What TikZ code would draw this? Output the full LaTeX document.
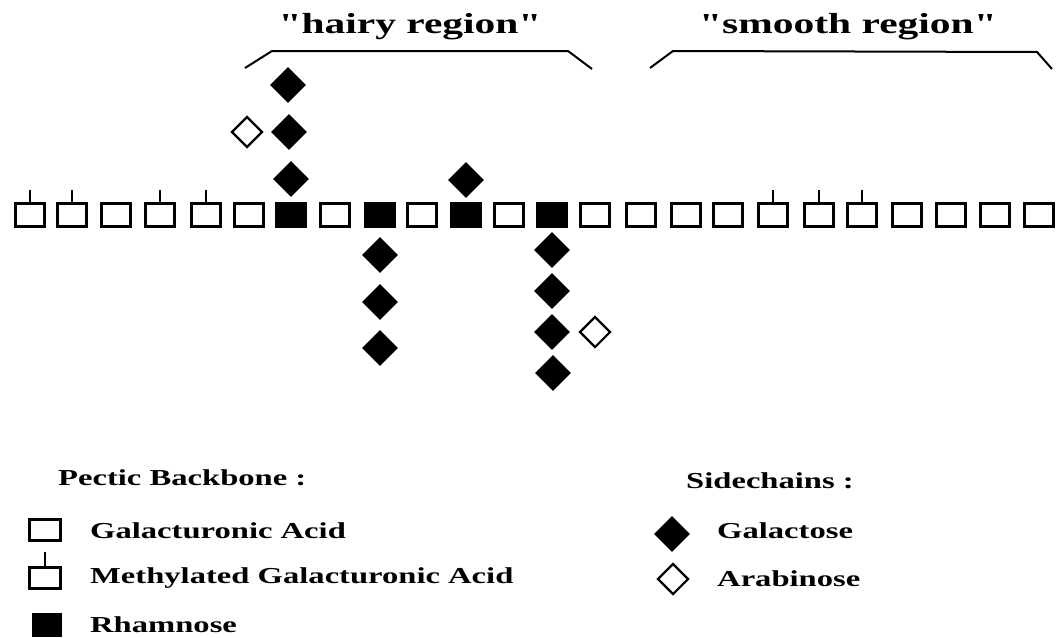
\documentclass[tikz,border=0pt]{standalone}
\usepackage{fontspec}
\setmainfont{Liberation Serif}[FakeStretch=1.43, Ligatures=TeXOff]
\usetikzlibrary{shapes.geometric}

\tikzset{
  unit/.style={rectangle, draw=black, line width=2.6pt, inner sep=0pt,
               minimum width=29pt, minimum height=23pt},
  gal/.style={unit, fill=white},
  rha/.style={unit, fill=black},
  stemline/.style={line width=2.4pt},
  mgal/.style={gal, append after command={
      (\tikzlastnode.north) edge[stemline] ++(0pt,12pt)}},
  galac/.style={diamond, shape aspect=1, fill=black, inner sep=0pt,
                minimum width=36pt, minimum height=36pt},
  arab/.style={diamond, shape aspect=1, draw=black, fill=white, line width=2.2pt,
               inner sep=0pt, minimum width=31pt, minimum height=31pt},
  brace/.style={line width=2pt, line join=round},
  title/.style={font=\fontsize{29}{29}\selectfont\bfseries, anchor=base, inner sep=0pt},
  legend/.style={font=\fontsize{22.8}{22.8}\selectfont\bfseries, anchor=base west, inner sep=0pt},
}

\begin{document}
\begin{tikzpicture}[x=1pt, y=-1pt]
\useasboundingbox (0,0) rectangle (1057,637);

% region labels and their brackets
\node[title] (hairy) at (410,33) {"hairy region"};
\node[title] (smooth) at (848,33) {"smooth region"};
\draw[brace] (245,68) -- (272,51) -- (568,51) -- (592,69);
\draw[brace] (650,68) -- (673,51) -- (1037,52) -- (1052,69);

% pectic backbone
\foreach \x/\t [count=\i] in {
   30/mgal, 72/mgal, 116/gal, 160/mgal, 206/mgal, 249/gal, 291/rha, 335/gal,
  380/rha, 422/gal, 466/rha, 509/gal, 552/rha, 595/gal, 641/gal, 686/gal,
  728/gal, 773/mgal, 819/mgal, 862/mgal, 907/gal, 951/gal, 995/gal, 1039/gal}
  \node[\t] (b\i) at (\x,215) {};

% side chains on the rhamnose units
\node[galac] (s7a) at (291,179) {};
\node[galac] (s7b) at (289,132) {};
\node[galac] (s7c) at (288,85) {};
\node[arab]  (s7d) at (247,132) {};

\node[galac] (s9a) at (380,255) {};
\node[galac] (s9b) at (380,302) {};
\node[galac] (s9c) at (380,348) {};

\node[galac] (s11a) at (466,180) {};

\node[galac] (s13a) at (552,250) {};
\node[galac] (s13b) at (552,291) {};
\node[galac] (s13c) at (552,332) {};
\node[galac] (s13d) at (553,373) {};
\node[arab]  (s13e) at (595,332) {};

% legend: backbone
\node[legend] (lbb) at (58,485) {Pectic Backbone :};
\node[gal, minimum width=31pt, minimum height=21pt] (kg) at (45,530) {};
\node[legend] (lg) at (90,538) {Galacturonic Acid};
\node[gal, minimum width=31pt, minimum height=21pt] (km) at (45,578) {};
\draw[stemline] (km.north) -- ++(0pt,14pt);
\node[legend] (lm) at (90,583) {Methylated Galacturonic Acid};
\node[rha, minimum width=28pt, minimum height=22pt] (kr) at (47,625) {};
\node[legend] (lr) at (90,632) {Rhamnose};

% legend: side chains
\node[legend] (lsc) at (686,488) {Sidechains :};
\node[galac] (kgal) at (672,534) {};
\node[legend] (lgal) at (717,538) {Galactose};
\node[arab] (kara) at (673,579) {};
\node[legend] (lara) at (717,586) {Arabinose};
\end{tikzpicture}
\end{document}
